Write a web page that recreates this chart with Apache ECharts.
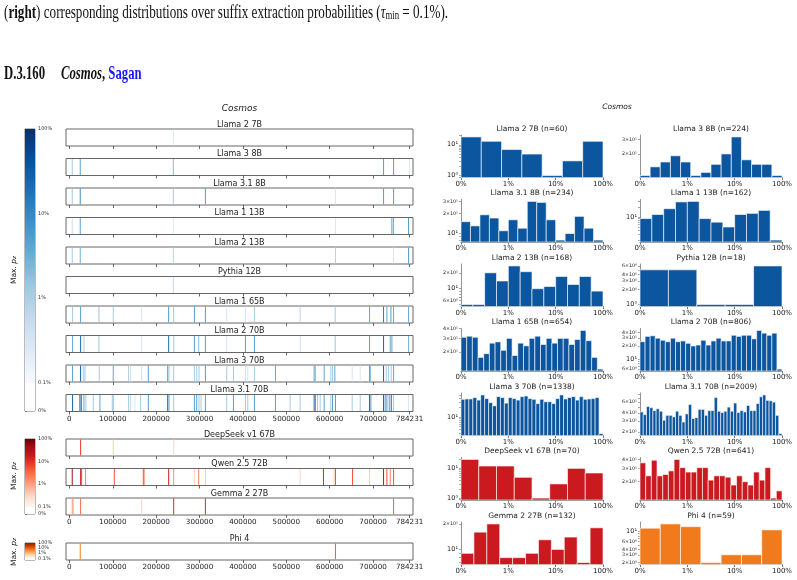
<!DOCTYPE html>
<html>
<head>
<meta charset="utf-8">
<script src="https://cdn.jsdelivr.net/npm/echarts@6/dist/echarts.min.js"></script>
<style>
html, body { margin: 0; padding: 0; background: #fff; }
#main { width: 797px; height: 580px; }
</style>
</head>
<body>
<div id="main"></div>
<script>
// ---- data ----
var corpusLen = 784231;
var stripTicks = [0, 100000, 200000, 300000, 400000, 500000, 600000, 700000, 784231];
var histTickLabels = ['0%', '1%', '10%', '100%'];
var cbarTicks = [-1 / 3, 0, 1, 2, 3];
var cbarTickLabels = ['0%', '0.1%', '1%', '10%', '100%'];

var blueModels = ['Llama 2 7B', 'Llama 3 8B', 'Llama 3.1 8B', 'Llama 1 13B', 'Llama 2 13B',
    'Pythia 12B', 'Llama 1 65B', 'Llama 2 70B', 'Llama 3 70B', 'Llama 3.1 70B'];
var redModels = ['DeepSeek v1 67B', 'Qwen 2.5 72B', 'Gemma 2 27B'];
var orangeModels = ['Phi 4'];

// strip data: [suffix position, max p_z]
var sLlama27B = [[239600, 0.003]];
var sLlama38B = [[6540, 0.012], [25000, 0.05], [239600, 0.02], [724200, 0.05], [747300, 0.05], [784200, 0.003]];
var sLlama318B = [[6540, 0.012], [25000, 0.08], [239600, 0.012], [313500, 0.05], [613400, 0.003], [724200, 0.05], [747300, 0.05]];
var sLlama113B = [[6540, 0.004], [25000, 0.05], [239600, 0.003], [613400, 0.003], [743400, 0.05], [747300, 0.03], [781900, 0.06]];
var sLlama213B = [[6540, 0.012], [25000, 0.03], [239600, 0.008], [613400, 0.008], [747300, 0.003], [781900, 0.06]];
var sPythia12B = [[239600, 0.006]];
var sLlama165B = [[7300, 0.012], [25800, 0.05], [68100, 0.015], [101100, 0.012], [166500, 0.003], [228800, 0.06],
    [240400, 0.015], [288100, 0.05], [313500, 0.05], [362700, 0.003], [405800, 0.003], [426500, 0.012],
    [531900, 0.008], [612700, 0.012], [691900, 0.04], [724200, 0.15], [731900, 0.04], [741200, 0.05],
    [747300, 0.04], [781900, 0.04]];
var sLlama270B = [[7300, 0.04], [25800, 0.2], [33500, 0.012], [68100, 0.015], [166500, 0.003], [228800, 0.2],
    [240400, 0.012], [288100, 0.05], [298100, 0.02], [313500, 0.05], [362700, 0.003], [405800, 0.05],
    [426500, 0.05], [531900, 0.004], [612700, 0.015], [691900, 0.05], [724200, 0.25], [739600, 0.04],
    [743400, 0.04], [781900, 0.03]];
var sLlama370B = [[7300, 0.05], [25800, 0.3], [31900, 0.012], [35800, 0.015], [68800, 0.012], [101100, 0.04],
    [136500, 0.01], [141100, 0.004], [166500, 0.004], [181900, 0.05], [226500, 0.05], [229600, 0.012],
    [240400, 0.012], [288100, 0.012], [293500, 0.012], [298800, 0.012], [313500, 0.05], [362700, 0.012],
    [378100, 0.012], [405800, 0.004], [411200, 0.003], [426500, 0.012], [475000, 0.04], [564200, 0.05],
    [567300, 0.015], [587300, 0.04], [602600, 0.012], [606500, 0.012], [611900, 0.04], [651900, 0.003],
    [670400, 0.003], [691900, 0.05], [693500, 0.03], [724200, 0.3], [730400, 0.012], [735800, 0.012],
    [741900, 0.012], [747300, 0.04]];
var sLlama3170B = [[7300, 0.25], [24200, 0.25], [27300, 0.25], [33500, 0.04], [38100, 0.012], [55000, 0.012],
    [70400, 0.04], [98800, 0.012], [101100, 0.015], [136500, 0.012], [141100, 0.006], [151100, 0.003],
    [164200, 0.012], [181900, 0.05], [226500, 0.2], [229600, 0.04], [240400, 0.012], [288100, 0.05],
    [293500, 0.05], [298800, 0.012], [303500, 0.012], [313500, 0.05], [362700, 0.012], [378100, 0.05],
    [405800, 0.012], [411200, 0.012], [426500, 0.05], [475000, 0.05], [508800, 0.012], [531900, 0.012],
    [564200, 0.25], [567300, 0.05], [571900, 0.012], [578100, 0.012], [587300, 0.05], [602600, 0.012],
    [606500, 0.05], [613400, 0.05], [651900, 0.012], [670400, 0.012], [691900, 0.25], [695000, 0.05],
    [724200, 0.3], [728000, 0.05], [731900, 0.05], [737300, 0.05], [741900, 0.25], [747300, 0.012],
    [781900, 0.003]];
var sDeepSeek67B = [[25800, 0.08], [101100, 0.004], [240400, 0.003]];
var sQwen72B = [[6540, 0.4], [25800, 0.15], [28100, 0.05], [37300, 0.02], [103500, 0.05], [170400, 0.05],
    [172700, 0.01], [228800, 0.15], [240400, 0.015], [288100, 0.003], [298100, 0.02], [313500, 0.004],
    [531900, 0.003], [585700, 0.12], [610300, 0.004], [613400, 0.05], [652700, 0.05], [691900, 0.004],
    [724200, 0.25], [731900, 0.06], [739600, 0.02], [747300, 0.05]];
var sGemma27B = [[6540, 0.01], [8500, 0.01], [25800, 0.03], [166500, 0.003], [240400, 0.12], [313500, 0.12], [747300, 0.04]];
var sPhi4 = [[25000, 0.05], [613400, 0.08]];

// histogram counts per bin (log-spaced bins from 0.1% to 100%)
var hLlama27B = [18, 13, 7, 5, 1, 3, 13];
var hLlama38B = [11, 14, 16, 19, 16, 11, 12, 15, 20, 32, 17, 15, 15, 11];
var hLlama318B = [15, 13, 19, 17, 11, 16, 12, 30, 29, 16, 8, 10, 18, 12, 8];
var hLlama113B = [9, 12, 18, 29, 30, 9, 7, 5, 12, 13, 16, 2];
var hLlama213B = [5, 5, 20, 14, 27, 21, 10, 11, 17, 12, 17, 9];
var hPythia12B = [5, 5, 1, 1, 6];
var hLlama165B = [31, 32, 31, 17, 19, 26, 27, 21, 30, 18, 26, 24, 30, 32, 25, 30, 26, 30, 30, 25, 29, 38, 28, 17, 12];
var hLlama270B = [25, 33, 34, 30, 27, 25, 30, 25, 26, 23, 20, 21, 27, 21, 26, 30, 26, 26, 35, 33, 35, 35, 29, 45, 39, 35, 39, 6];
var hLlama370B = [37, 38, 38, 42, 35, 51, 39, 29, 23, 45, 42, 28, 42, 39, 35, 45, 47, 39, 37, 27, 37, 31, 31, 27,
    39, 51, 38, 42, 45, 35, 45, 37, 38, 39, 42, 3];
var hLlama3170B = [42, 38, 51, 49, 44, 47, 43, 31, 37, 37, 35, 43, 37, 29, 39, 55, 33, 34, 46, 46, 37, 44, 44, 71,
    43, 41, 43, 50, 43, 58, 41, 44, 42, 53, 44, 44, 57, 73, 78, 64, 63, 60, 37, 19];
var hDeepSeek67B = [20, 12, 12, 5, 1, 3, 10, 7];
var hQwen72B = [36, 24, 39, 24, 25, 28, 40, 31, 27, 27, 31, 31, 21, 24, 24, 23, 18, 24, 20, 18, 27, 21, 31, 12, 15];
var hGemma27B = [9, 16, 20, 8, 8, 9, 13, 10, 14, 7, 18];
var hPhi4 = [12, 15, 13, 2, 3, 3, 11];

// ---- colour maps ----
var blues = ['#f7fbff', '#deebf7', '#c6dbef', '#9ecae1', '#6baed6', '#4292c6', '#2171b5', '#08519c', '#08306b'];
var reds = ['#fff5f0', '#fee0d2', '#fcbba1', '#fc9272', '#fb6a4a', '#ef3b2c', '#cb181d', '#a50f15', '#67000d'];
var oranges = ['#fff5eb', '#fee6ce', '#fdd0a2', '#fdae6b', '#fd8d3c', '#f16913', '#d94801', '#a63603', '#7f2704'];

function hexRgb(h) {
    return [parseInt(h.substr(1, 2), 16), parseInt(h.substr(3, 2), 16), parseInt(h.substr(5, 2), 16)];
}
function cmapColor(cm, t) {
    t = Math.max(0, Math.min(1, t));
    var s = t * (cm.length - 1), i = Math.min(Math.floor(s), cm.length - 2), f = s - i;
    var a = hexRgb(cm[i]), b = hexRgb(cm[i + 1]);
    return 'rgb(' + a.map(function (v, k) { return Math.round(v + (b[k] - v) * f); }).join(',') + ')';
}
function probColor(cm, p) {
    if (p < 0.001) return '#ffffff';
    return cmapColor(cm, Math.log10(p / 0.001) / 3);
}
function cbarGradient(cm) {
    var span = 3 + 1 / 3;
    var stops = [];
    for (var k = cm.length - 1; k >= 0; k--) {
        stops.push({ offset: (3 - 3 * k / (cm.length - 1)) / span, color: cm[k] });
    }
    stops.push({ offset: 3 / span + 0.002, color: '#ffffff' }, { offset: 1, color: '#ffffff' });
    return new echarts.graphic.LinearGradient(0, 0, 0, 1, stops);
}

var FONT = 'DejaVu Sans';
var grids = [], xAxes = [], yAxes = [], series = [], graphics = [];

function addGrid(g, xa, ya) {
    grids.push(g);
    var i = grids.length - 1;
    xa.gridIndex = i; ya.gridIndex = i;
    xAxes.push(xa); yAxes.push(ya);
    return i;
}
function addLabel(text, x, y, size, italic) {
    graphics.push({
        type: 'text', x: x, y: y, silent: true,
        style: {
            text: text, fill: '#222', textAlign: 'center', textVerticalAlign: 'middle',
            font: (italic ? 'italic ' : '') + size + 'px "' + FONT + '"'
        }
    });
}

// ---- strip plots (left) ----
function addStrip(name, data, cm, top, showLabels) {
    var i = addGrid({ left: 66, top: top, width: 347, height: 17, show: true, borderColor: '#666', borderWidth: 1 },
        {
            type: 'value', min: -7842, max: 792073,
            axisLine: { show: false }, splitLine: { show: false },
            axisTick: { show: true, length: 3, customValues: stripTicks, lineStyle: { color: '#444', width: 0.8 } },
            axisLabel: {
                show: showLabels, customValues: stripTicks, fontSize: 7.2, color: '#222', margin: 4, fontFamily: FONT,
                formatter: function (v) { return String(v); }
            }
        },
        { type: 'value', min: 0, max: 1, show: false });
    var sorted = data.slice().sort(function (a, b) { return a[1] - b[1]; });
    series.push({
        type: 'custom', xAxisIndex: i, yAxisIndex: i, data: sorted, silent: true,
        renderItem: function (params, api) {
            var cs = params.coordSys;
            var x = api.coord([api.value(0), 0])[0];
            return {
                type: 'rect',
                shape: { x: x - 0.5, y: cs.y + 0.5, width: 1, height: cs.height - 1 },
                style: { fill: probColor(cm, api.value(1)) }
            };
        }
    });
    addLabel(name, 239.5, top - 4.5, 8, false);
}

// ---- colour bars ----
function addColorbar(cm, top, height, labelY) {
    var i = addGrid({ left: 25, top: top, width: 10, height: height, show: true, borderColor: '#555', borderWidth: 0.8 },
        { type: 'value', min: 0, max: 1, show: false },
        {
            type: 'value', min: -1 / 3, max: 3, position: 'right',
            axisLine: { show: false }, splitLine: { show: false },
            axisTick: { show: true, length: 2, customValues: cbarTicks, lineStyle: { color: '#444', width: 0.6 } },
            axisLabel: {
                customValues: cbarTicks, fontSize: 5, color: '#333', margin: 3, fontFamily: FONT,
                formatter: function (v) { return cbarTickLabels[cbarTicks.indexOf(v)] || (v < 0 ? '0%' : ''); }
            }
        });
    series.push({
        type: 'custom', xAxisIndex: i, yAxisIndex: i, data: [[0, 3]], silent: true, z: 1,
        renderItem: function (params) {
            var cs = params.coordSys;
            return { type: 'rect', shape: { x: cs.x, y: cs.y, width: cs.width, height: cs.height }, style: { fill: cbarGradient(cm) } };
        }
    });
    graphics.push({
        type: 'text', x: 14, y: labelY, rotation: Math.PI / 2, silent: true,
        style: {
            text: '{n|Max. }{p|p}{z|z}', textAlign: 'center', textVerticalAlign: 'middle', fill: '#222',
            rich: {
                n: { fontSize: 7.5, fontFamily: FONT, fill: '#222' },
                p: { fontSize: 7.5, fontFamily: FONT, fontStyle: 'italic', fill: '#222' },
                z: { fontSize: 5.5, fontFamily: FONT, fontStyle: 'italic', fill: '#222', verticalAlign: 'bottom' }
            }
        }
    });
}

// ---- histograms (right) ----
var sup = ['\u2070', '\u00b9', '\u00b2', '\u00b3'];
function logTicks(ymin, ymax) {
    var numdec = Math.log10(ymax) - Math.log10(ymin);
    var subs = numdec > 1 ? [1] : (numdec > 0.4 ? [1, 2, 3, 4, 6] : [1, 2, 3, 4, 5, 6, 7, 8, 9]);
    var major = [], minor = [];
    for (var e = Math.floor(Math.log10(ymin)); e <= Math.ceil(Math.log10(ymax)); e++) {
        for (var m = 1; m <= 9; m++) {
            var v = m * Math.pow(10, e);
            if (v < ymin || v > ymax) continue;
            minor.push(v);
            if (subs.indexOf(m) >= 0) major.push(v);
        }
    }
    return { major: major, minor: minor };
}
function logLabel(v) {
    var e = Math.floor(Math.log10(v) + 1e-9);
    var m = Math.round(v / Math.pow(10, e));
    return m === 1 ? '{a|10' + sup[e] + '}' : '{b|' + m + '\u00d710' + sup[e] + '}';
}

function addHist(name, counts, color, left, top) {
    var lo = Math.log10(Math.min.apply(null, counts)), hi = Math.log10(Math.max.apply(null, counts));
    var pad = 0.05 * (hi - lo);
    var ymin = Math.pow(10, lo - pad), ymax = Math.pow(10, hi + pad);
    var ticks = logTicks(ymin, ymax);
    var n = counts.length;
    var i = addGrid({ left: left, top: top, width: 142, height: 42.5 },
        {
            type: 'value', min: 0, max: 3, interval: 1,
            axisLine: { show: true, lineStyle: { color: '#555', width: 0.8 } },
            axisTick: { show: true, length: 2.5, lineStyle: { color: '#555', width: 0.8 } },
            splitLine: { show: false },
            axisLabel: { fontSize: 7, color: '#222', margin: 3, fontFamily: FONT, formatter: function (v) { return histTickLabels[v]; } }
        },
        {
            type: 'log', logBase: 10, min: ymin, max: ymax,
            axisLine: { show: true, lineStyle: { color: '#777', width: 0.8 } },
            splitLine: { show: false },
            axisTick: { show: true, length: 2, customValues: ticks.minor, lineStyle: { color: '#666', width: 0.6 } },
            axisLabel: {
                customValues: ticks.major, margin: 3, formatter: logLabel,
                rich: {
                    a: { fontSize: 6.5, color: '#222', fontFamily: FONT },
                    b: { fontSize: 4.8, color: '#222', fontFamily: FONT }
                }
            }
        });
    series.push({
        type: 'custom', xAxisIndex: i, yAxisIndex: i, silent: true,
        encode: { x: [0, 2], y: 1 },
        data: counts.map(function (c, k) { return [k * 3 / n, c, (k + 1) * 3 / n]; }),
        renderItem: function (params, api) {
            var p0 = api.coord([api.value(0), api.value(1)]);
            var p1 = api.coord([api.value(2), ymin]);
            return {
                type: 'rect',
                shape: { x: p0[0], y: p0[1], width: p1[0] - p0[0], height: p1[1] - p0[1] },
                style: { fill: color, stroke: 'rgba(255,255,255,0.6)', lineWidth: 1 }
            };
        }
    });
    var total = counts.reduce(function (a, b) { return a + b; }, 0);
    addLabel(name + ' (n=' + total + ')', left + 71, top - 6, 7.5, false);
}

// build strips
var blueStrips = [sLlama27B, sLlama38B, sLlama318B, sLlama113B, sLlama213B, sPythia12B, sLlama165B, sLlama270B, sLlama370B, sLlama3170B];
var redStrips = [sDeepSeek67B, sQwen72B, sGemma27B];
blueModels.forEach(function (m, k) { addStrip(m, blueStrips[k], blues, 129 + k * 29.5, k === blueModels.length - 1); });
redModels.forEach(function (m, k) { addStrip(m, redStrips[k], reds, 439 + k * 29.5, k === redModels.length - 1); });
addStrip(orangeModels[0], sPhi4, oranges, 543, true);

addColorbar(blues, 129, 282, 270);
addColorbar(reds, 439, 75, 476);
addColorbar(oranges, 543, 17, 552);

// build histograms
var histRows = [135, 199.5, 264, 328.5, 393, 457.5, 522];
var histList = [
    ['Llama 2 7B', hLlama27B], ['Llama 3 8B', hLlama38B], ['Llama 3.1 8B', hLlama318B], ['Llama 1 13B', hLlama113B],
    ['Llama 2 13B', hLlama213B], ['Pythia 12B', hPythia12B], ['Llama 1 65B', hLlama165B], ['Llama 2 70B', hLlama270B],
    ['Llama 3 70B', hLlama370B], ['Llama 3.1 70B', hLlama3170B], ['DeepSeek v1 67B', hDeepSeek67B],
    ['Qwen 2.5 72B', hQwen72B], ['Gemma 2 27B', hGemma27B], ['Phi 4', hPhi4]
];
histList.forEach(function (h, k) {
    var col = blueModels.indexOf(h[0]) >= 0 ? '#0c559f' : (redModels.indexOf(h[0]) >= 0 ? '#cb1a1f' : '#f07a1c');
    addHist(h[0], h[1], col, k % 2 === 0 ? 461 : 640, histRows[Math.floor(k / 2)]);
});

// panel titles
addLabel('Cosmos', 239.5, 109, 9, true);
addLabel('Cosmos', 617, 107, 7.5, true);

// page text around the figure
graphics.push({
    type: 'text', x: 4, y: 4, scaleX: 0.73, silent: true,
    style: {
        text: '({b|right}) corresponding distributions over suffix extraction probabilities ({i|\u03c4}{s|min} = 0.1%).',
        font: '18px "Liberation Serif"', fill: '#111', textVerticalAlign: 'top',
        rich: {
            b: { fontSize: 18, fontWeight: 'bold', fontFamily: 'Liberation Serif', fill: '#111' },
            i: { fontSize: 18, fontStyle: 'italic', fontFamily: 'Liberation Serif', fill: '#111' },
            s: { fontSize: 12, fontFamily: 'Liberation Serif', fill: '#111', verticalAlign: 'bottom' }
        }
    }
});
graphics.push({
    type: 'text', x: 4, y: 65, scaleX: 0.67, silent: true,
    style: {
        text: '{b|D.3.160}     {bi|Cosmos}{b|,} {bl|Sagan}',
        font: 'bold 19px "Liberation Serif"', fill: '#111', textVerticalAlign: 'top',
        rich: {
            b: { fontSize: 19, fontWeight: 'bold', fontFamily: 'Liberation Serif', fill: '#111' },
            bi: { fontSize: 19, fontWeight: 'bold', fontStyle: 'italic', fontFamily: 'Liberation Serif', fill: '#111' },
            bl: { fontSize: 19, fontWeight: 'bold', fontFamily: 'Liberation Serif', fill: '#1a1aff' }
        }
    }
});

var myChart = echarts.init(document.getElementById('main'));
var option = {
    animation: false,
    backgroundColor: '#fff',
    grid: grids,
    xAxis: xAxes,
    yAxis: yAxes,
    series: series,
    graphic: graphics
};
myChart.setOption(option, true);
window.onresize = myChart.resize;
</script>
</body>
</html>
